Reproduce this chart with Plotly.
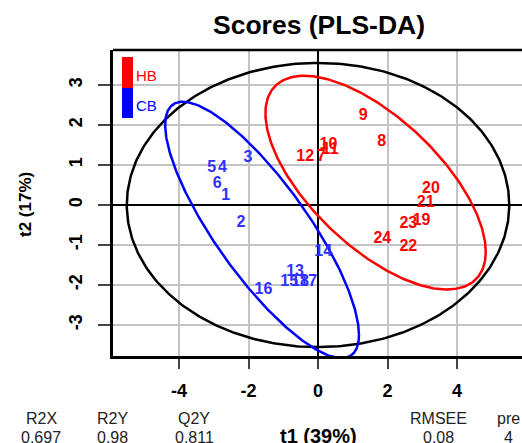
import numpy as np
import plotly.graph_objects as go

# ---------------- data ----------------
hb_labels = ["7", "8", "9", "10", "11", "12", "19", "20", "21", "22", "23", "24"]
hb_t1 = [0.09, 1.83, 1.30, 0.30, 0.35, -0.37, 2.98, 3.25, 3.10, 2.60, 2.60, 1.85]
hb_t2 = [1.19, 1.58, 2.23, 1.50, 1.375, 1.19, -0.40, 0.40, 0.04, -1.06, -0.475, -0.86]

cb_labels = ["1", "2", "3", "4", "5", "6", "13", "14", "15", "16", "17", "18"]
cb_t1 = [-2.66, -2.22, -2.02, -2.75, -3.06, -2.90, -0.66, 0.15, -0.83, -1.57, -0.28, -0.52]
cb_t2 = [0.225, -0.46, 1.17, 0.92, 0.92, 0.525, -1.68, -1.18, -1.93, -2.125, -1.93, -1.93]

x_ticks = [-4, -2, 0, 2, 4]
x_ticktext = ["-4", "-2", "0", "2", "4"]
y_ticks = [-3, -2, -1, 0, 1, 2, 3]
y_ticktext = ["-3", "-2", "-1", "0", "1", "2", "3"]

stat_names = ["R2X", "R2Y", "Q2Y", "RMSEE", "pre"]
stat_values = ["0.697", "0.98", "0.811", "0.08", "4"]

title_text = "Scores (PLS-DA)"
x_title = "t1 (39%)"
y_title = "t2 (17%)"

CHI2_95_DF2 = 5.991      # chi-square 0.95 quantile, 2 df
F_95_2_22 = 3.443        # F(0.95; 2, n-2) with n = 24

# ---------------- geometry helpers ----------------
W, H = 522, 443
L_PX, T_PX, R_PX, B_PX = 113, 50, 522, 356   # plot area in pixels
PW, PH = R_PX - L_PX, B_PX - T_PX


def px(x):
    return (x - L_PX) / PW


def py(y):
    return (B_PX - y) / PH


theta = np.linspace(0, 2 * np.pi, 400)


def group_ellipse(xs, ys):
    pts = np.vstack([xs, ys])
    mu = pts.mean(axis=1, keepdims=True)
    cov = np.cov(pts)
    Lc = np.linalg.cholesky(cov)
    circ = np.vstack([np.cos(theta), np.sin(theta)])
    e = mu + np.sqrt(CHI2_95_DF2) * Lc @ circ
    return e[0], e[1]


all_t1 = np.array(hb_t1 + cb_t1)
all_t2 = np.array(hb_t2 + cb_t2)
n = len(all_t1)
rad = np.sqrt(2 * (n - 1) / (n - 2) * F_95_2_22)
big_x = rad * np.std(all_t1, ddof=1) * np.cos(theta)
big_y = rad * np.std(all_t2, ddof=1) * np.sin(theta)

hb_ex, hb_ey = group_ellipse(hb_t1, hb_t2)
cb_ex, cb_ey = group_ellipse(cb_t1, cb_t2)

RED = "#ff0000"
BLUE = "#0000ff"
LBL_BLUE = "#3030ff"
FONT = "Liberation Sans, Arial, sans-serif"

fig = go.Figure()
fig.add_trace(go.Scatter(x=big_x, y=big_y, mode="lines",
                         line=dict(color="black", width=2.5), hoverinfo="skip"))
fig.add_trace(go.Scatter(x=hb_ex, y=hb_ey, mode="lines",
                         line=dict(color=RED, width=2.5), hoverinfo="skip"))
fig.add_trace(go.Scatter(x=cb_ex, y=cb_ey, mode="lines",
                         line=dict(color=BLUE, width=2.5), hoverinfo="skip"))
fig.add_trace(go.Scatter(x=hb_t1, y=hb_t2, mode="text", text=hb_labels,
                         textposition="middle center",
                         textfont=dict(color=RED, size=16, family=FONT, weight="bold")))
fig.add_trace(go.Scatter(x=cb_t1, y=cb_t2, mode="text", text=cb_labels,
                         textposition="middle center",
                         textfont=dict(color=LBL_BLUE, size=16, family=FONT, weight="bold")))

annotations = []
# title
annotations.append(dict(x=px(319), y=py(25), xref="paper", yref="paper",
                        text="<b>%s</b>" % title_text, showarrow=False,
                        xanchor="center", yanchor="middle",
                        font=dict(size=26.5, family=FONT, color="black")))
# axis titles
annotations.append(dict(x=px(318), y=py(436), xref="paper", yref="paper",
                        text="<b>%s</b>" % x_title, showarrow=False,
                        xanchor="center", yanchor="middle",
                        font=dict(size=20, family=FONT, color="black")))
annotations.append(dict(x=px(25), y=py(205), xref="paper", yref="paper",
                        text="<b>%s</b>" % y_title, showarrow=False, textangle=-90,
                        xanchor="center", yanchor="middle",
                        font=dict(size=17, family=FONT, color="black")))
# stats
stat_x = [41, 112, 194, 438, 508]
for name, val, sx in zip(stat_names, stat_values, stat_x):
    annotations.append(dict(x=px(sx), y=py(418), xref="paper", yref="paper",
                            text=name, showarrow=False, xanchor="center", yanchor="middle",
                            font=dict(size=16, family=FONT, color="#222222")))
    annotations.append(dict(x=px(sx), y=py(437), xref="paper", yref="paper",
                            text=val, showarrow=False, xanchor="center", yanchor="middle",
                            font=dict(size=16, family=FONT, color="#222222")))
# legend text
annotations.append(dict(x=px(134), y=py(75), xref="paper", yref="paper", text="HB",
                        showarrow=False, xanchor="left", yanchor="middle",
                        font=dict(size=15, family=FONT, color=RED)))
annotations.append(dict(x=px(134), y=py(105), xref="paper", yref="paper", text="CB",
                        showarrow=False, xanchor="left", yanchor="middle",
                        font=dict(size=15, family=FONT, color=BLUE)))

shapes = [
    dict(type="rect", xref="paper", yref="paper", x0=px(122), x1=px(133),
         y0=py(88), y1=py(57), fillcolor=RED, line=dict(width=0)),
    dict(type="rect", xref="paper", yref="paper", x0=px(122), x1=px(133),
         y0=py(118), y1=py(88), fillcolor=BLUE, line=dict(width=0)),
    dict(type="line", xref="paper", yref="paper", x0=0, x1=1.01, y0=1, y1=1,
         line=dict(color="black", width=2.5)),
]

fig.update_layout(
    width=W, height=H,
    margin=dict(l=L_PX, r=W - R_PX, t=T_PX, b=H - B_PX, pad=0),
    paper_bgcolor="white", plot_bgcolor="white",
    showlegend=False,
    annotations=annotations,
    shapes=shapes,
    xaxis=dict(range=[-5.9, 5.87], tickvals=x_ticks, ticktext=x_ticktext,
               showgrid=True, gridcolor="#c4c4c4", gridwidth=2,
               zeroline=True, zerolinecolor="black", zerolinewidth=2,
               showline=True, linecolor="black", linewidth=2.5,
               ticks="outside", ticklen=10, tickwidth=1.5, tickcolor="#444444",
               tickfont=dict(size=18, family=FONT, color="black", weight="bold"),
               ticklabelstandoff=7),
    yaxis=dict(range=[-3.775, 3.875], tickvals=y_ticks, ticktext=y_ticktext,
               showgrid=True, gridcolor="#c4c4c4", gridwidth=2,
               zeroline=True, zerolinecolor="black", zerolinewidth=2,
               showline=True, linecolor="black", linewidth=2.5,
               ticks="outside", ticklen=12, tickwidth=1.5, tickcolor="#444444",
               tickangle=-90,
               tickfont=dict(size=18, family=FONT, color="black", weight="bold"),
               ticklabelstandoff=9),
)

fig.write_html("out.html", config={"displayModeBar": False},
               post_script="document.body.style.margin='0';document.body.style.overflow='hidden';")
